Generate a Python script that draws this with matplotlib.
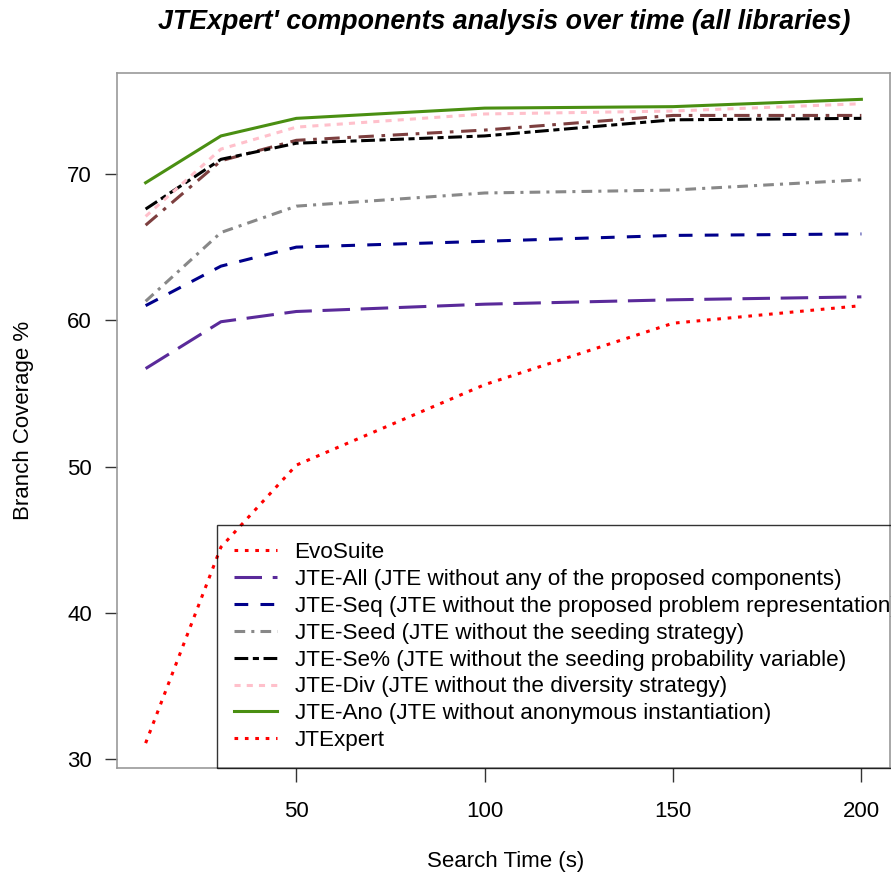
import matplotlib.pyplot as plt
from matplotlib.lines import Line2D

plt.rcParams['font.family'] = ['Liberation Sans', 'DejaVu Sans']

# search time (s) and branch coverage %
search_time = [10, 30, 50, 100, 150, 200]
evosuite = [31.1, 44.5, 50.1, 55.6, 59.8, 61.0]
jte_all = [56.7, 59.9, 60.6, 61.1, 61.4, 61.6]
jte_seq = [61.0, 63.7, 65.0, 65.4, 65.8, 65.9]
jte_seed = [61.3, 66.0, 67.8, 68.7, 68.9, 69.6]
jte_se = [67.6, 71.0, 72.1, 72.6, 73.7, 73.8]
jte_div = [67.1, 71.7, 73.2, 74.1, 74.3, 74.8]
jte_ano = [69.4, 72.6, 73.8, 74.5, 74.6, 75.1]
jtexpert = [66.5, 70.9, 72.3, 73.0, 74.0, 74.0]

labels = ['EvoSuite',
          'JTE-All (JTE without any of the proposed components)',
          'JTE-Seq (JTE without the proposed problem representation)',
          'JTE-Seed (JTE without the seeding strategy)',
          'JTE-Se% (JTE without the seeding probability variable)',
          'JTE-Div (JTE without the diversity strategy)',
          'JTE-Ano (JTE without anonymous instantiation)',
          'JTExpert']

W, H = 891, 877
fig = plt.figure(figsize=(W / 100, H / 100), dpi=100)
ax = fig.add_axes([117 / W, (H - 768) / H, (890 - 117) / W, (768 - 73) / H])

lw = 2.2
ax.plot(search_time, jtexpert, color='#7d3f3f', lw=lw, dashes=(5, 2.5, 1.2, 2.5))
l_evo, = ax.plot(search_time, evosuite, color='red', lw=lw, dashes=(1.2, 2.2))
l_all, = ax.plot(search_time, jte_all, color='#5a2a9a', lw=lw, dashes=(9, 3.5))
l_seq, = ax.plot(search_time, jte_seq, color='#00008b', lw=lw, dashes=(4.5, 4))
l_seed, = ax.plot(search_time, jte_seed, color='#888888', lw=lw, dashes=(3.5, 2, 1, 2))
l_se, = ax.plot(search_time, jte_se, color='black', lw=lw, dashes=(4.5, 1.5, 2, 1.5))
l_div, = ax.plot(search_time, jte_div, color='#ffc0cb', lw=lw, dashes=(2, 2))
l_ano, = ax.plot(search_time, jte_ano, color='#4a8f12', lw=lw)
l_jtx = Line2D([], [], color='red', lw=lw, dashes=(1.2, 2.2))

ax.set_xlim(2.4, 207.6)
ax.set_ylim(29.4, 76.9)
ax.set_xticks([50, 100, 150, 200])
ax.set_yticks([30, 40, 50, 60, 70])
ax.tick_params(axis='x', length=10, width=1, color='#333333', pad=14, labelsize=16)
ax.tick_params(axis='y', length=9, width=1, color='#333333', pad=9, labelsize=16)
for s in ax.spines.values():
    s.set_color('#999999')
    s.set_linewidth(1.2)

leg = ax.legend([l_evo, l_all, l_seq, l_seed, l_se, l_div, l_ano, l_jtx], labels,
                loc='lower left', bbox_to_anchor=(217 / W, (H - 768) / H),
                bbox_transform=fig.transFigure, borderaxespad=0, fontsize=16.2,
                labelspacing=0.26, handlelength=1.9, handletextpad=0.8,
                borderpad=0.75, fancybox=False, facecolor='none', edgecolor='black')
leg.get_frame().set_linewidth(1.0)

fig.text(504 / W, 1 - 22 / H, "JTExpert' components analysis over time (all libraries)",
         ha='center', va='center', fontsize=19.3, fontweight='bold', fontstyle='italic')
fig.text(506 / W, 1 - 862 / H, 'Search Time (s)', ha='center', va='center', fontsize=16)
fig.text(24 / W, 1 - 420 / H, 'Branch Coverage %', ha='center', va='center',
         rotation=90, fontsize=16)

fig.savefig('out.png', dpi=100)
